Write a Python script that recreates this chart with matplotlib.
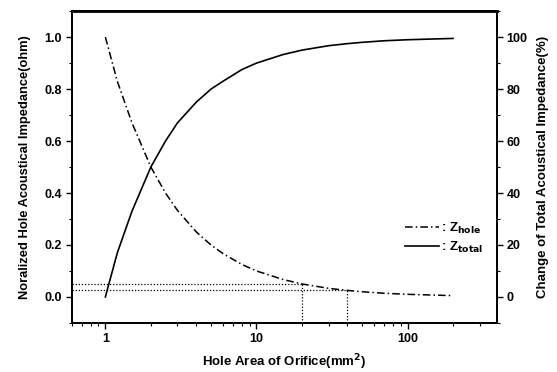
import matplotlib
matplotlib.use("Agg")
import matplotlib.pyplot as plt
from matplotlib.ticker import MultipleLocator, LogLocator, NullFormatter, FixedLocator

plt.rcParams['font.family'] = ['Liberation Sans', 'DejaVu Sans']
plt.rcParams['font.weight'] = 'bold'
plt.rcParams['mathtext.default'] = 'bf'

# Data
area = [1, 1.2, 1.5, 2, 2.5, 3, 4, 5, 6, 8, 10, 15, 20, 30, 40, 50, 70, 100, 150, 200]
z_hole = [1.0, 0.83, 0.67, 0.5, 0.4, 0.333, 0.25, 0.2, 0.167, 0.125, 0.1, 0.067,
          0.05, 0.033, 0.025, 0.02, 0.014, 0.01, 0.007, 0.005]
z_total = [0, 17, 33, 50, 60, 67, 75, 80, 83, 87.5, 90, 93.3,
           95, 96.7, 97.5, 98, 98.6, 99, 99.3, 99.5]
ref_area = [20, 40]
ref_level = [0.05, 0.025]

fig = plt.figure(figsize=(5.57, 3.72), dpi=100)
ax = fig.add_axes([0.129, 0.132, 0.763, 0.838])
ax2 = ax.twinx()

ax.set_xscale('log')
ax.set_xlim(0.6, 390)
ax.set_ylim(-0.1, 1.1)
ax2.set_ylim(-10, 110)

l1, = ax.plot(area, z_hole, color='black', lw=1.1, linestyle=(0, (5, 2, 1, 2)))
l2, = ax2.plot(area, z_total, color='black', lw=1.2, linestyle='-')

for a, lv in zip(ref_area, ref_level):
    ax.plot([0.6, a], [lv, lv], color='black', lw=0.9, linestyle=(0, (1, 1.5)))
    ax.plot([a, a], [-0.1, lv], color='black', lw=0.9, linestyle=(0, (1, 1.5)))

ax.yaxis.set_major_locator(FixedLocator([0.0, 0.2, 0.4, 0.6, 0.8, 1.0]))
ax.yaxis.set_minor_locator(MultipleLocator(0.1))
ax.set_yticklabels(['0.0', '0.2', '0.4', '0.6', '0.8', '1.0'])
ax2.yaxis.set_major_locator(FixedLocator([0, 20, 40, 60, 80, 100]))
ax2.yaxis.set_minor_locator(MultipleLocator(10))
ax.xaxis.set_minor_locator(LogLocator(base=10, subs=range(2, 10), numticks=20))
ax.xaxis.set_minor_formatter(NullFormatter())
ax.set_xticks([1, 10, 100])
ax.set_xticklabels(['1', '10', '100'])

for a in (ax, ax2):
    a.tick_params(which='major', direction='out', length=4, width=1.0, labelsize=9)
    a.tick_params(which='minor', direction='out', length=2, width=0.8)
    for s in a.spines.values():
        s.set_linewidth(1.3)
ax.spines['top'].set_linewidth(2.0)
ax.tick_params(axis='y', pad=3)
ax2.tick_params(axis='y', pad=3)

ax.set_xlabel('Hole Area of Orifice(mm$^{2}$)', fontsize=9.5, fontweight='bold', labelpad=5)
ax.set_ylabel('Noralized Hole Acoustical Impedance(ohm)', fontsize=9.3, fontweight='bold', labelpad=10)
ax2.set_ylabel('Change of Total Acoustical Impedance(%)', fontsize=9.5, fontweight='bold', labelpad=7)

leg = ax.legend([l1, l2], [r': Z$_{\mathbf{hole}}$', r': Z$_{\mathbf{total}}$'],
                loc='lower right', bbox_to_anchor=(0.995, 0.18), frameon=False,
                handlelength=2.6, handletextpad=0.1, labelspacing=0.3,
                prop={'weight': 'bold', 'size': 9.5})

fig.savefig('out.png', dpi=100)
